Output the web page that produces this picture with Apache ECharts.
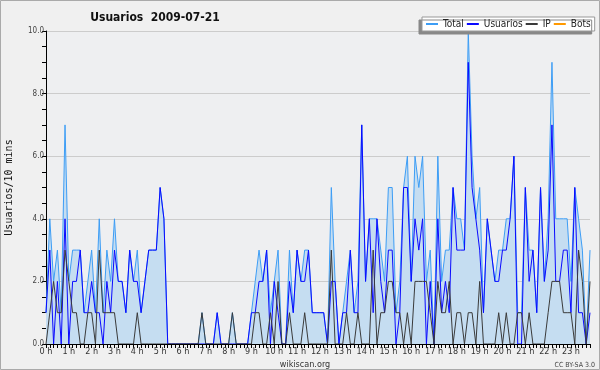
<!DOCTYPE html>
<html><head><meta charset="utf-8">
<script src="https://cdn.jsdelivr.net/npm/echarts@6/dist/echarts.min.js"></script>
<style>html,body{margin:0;padding:0;background:#f0f0f0}#c{width:600px;height:370px}</style>
</head><body><div id="c"></div>
<script>
var hourLabels = ["0 h","1 h","2 h","3 h","4 h","5 h","6 h","7 h","8 h","9 h","10 h","11 h","12 h","13 h","14 h","15 h","16 h","17 h","18 h","19 h","20 h","21 h","22 h","23 h"];
var yTickLabels = ["0.0","2.0","4.0","6.0","8.0","10.0"];
var total = [1,4,2,3,1,7, 2,3,3,3,1,2, 3,1,4,1,3,2, 4,2,2,1,3,2, 3,1,2,3,3,3, 5,4,0,0,0,0,
  0,0,0,0,0,1, 0,0,0,1,0,0, 0,1,0,0,0,0, 1,2,3,2,3,1, 2,3,0,0,3,1, 3,2,3,3,1,1,
  1,1,0,5,2,0, 1,2,3,1,2,7, 2,4,4,4,3,2, 5,5,1,2,5,6, 2,6,5,6,2,3, 0,6,2,3,3,5,
  4,4,3,10,6,4, 5,1,4,3,2,3, 3,4,4,6,1,1, 5,3,3,1,5,2, 4,9,4,4,4,4, 2,5,4,3,0,3];
var usuarios = [1,3,0,2,0,4, 0,2,2,3,1,1, 2,1,1,0,2,1, 3,2,2,1,3,2, 2,1,2,3,3,3, 5,4,0,0,0,0,
  0,0,0,0,0,0, 0,0,0,1,0,0, 0,0,0,0,0,0, 1,1,2,2,3,0, 2,1,0,0,2,1, 3,2,2,3,1,1,
  1,1,0,2,2,0, 1,1,3,1,1,7, 2,4,1,4,2,1, 3,3,0,1,5,5, 2,4,3,4,0,2, 0,4,1,2,1,5,
  3,3,3,9,5,4, 3,1,4,3,2,2, 3,3,4,6,0,0, 5,2,3,1,5,2, 3,7,2,2,3,3, 1,5,1,1,0,1];
var ip = [0,1,2,1,1,3, 2,1,1,0,0,1, 1,0,3,1,1,1, 1,0,0,0,0,0, 1,0,0,0,0,0, 0,0,0,0,0,0,
  0,0,0,0,0,1, 0,0,0,0,0,0, 0,1,0,0,0,0, 0,1,1,0,0,1, 0,2,0,0,1,0, 0,0,1,0,0,0,
  0,0,0,3,0,0, 0,1,0,0,1,0, 0,0,3,0,1,1, 2,2,1,1,0,1, 0,2,2,2,2,1, 0,2,1,1,2,0,
  1,1,0,1,1,0, 2,0,0,0,0,1, 0,1,0,0,1,1, 0,1,0,0,0,0, 1,2,2,2,1,1, 1,0,3,2,0,2];
var bots = [0,0,0,0,0,0, 0,0,0,0,0,0, 0,0,0,0,0,0, 0,0,0,0,0,0, 0,0,0,0,0,0, 0,0,0,0,0,0,
  0,0,0,0,0,0, 0,0,0,0,0,0, 0,0,0,0,0,0, 0,0,0,0,0,0, 0,0,0,0,0,0, 0,0,0,0,0,0,
  0,0,0,0,0,0, 0,0,0,0,0,0, 0,0,0,0,0,0, 0,0,0,0,0,0, 0,0,0,0,0,0, 0,0,0,0,0,0,
  0,0,0,0,0,0, 0,0,0,0,0,0, 0,0,0,0,0,0, 0,0,0,0,0,0, 0,0,0,0,0,0, 0,0,0,0,0,0];

var categories = [];
hourLabels.forEach(function(h){ for (var k=0;k<6;k++) categories.push(k===0 ? h : ""); });

var FONT = "'DejaVu Sans Condensed', 'DejaVu Sans', sans-serif";
var MONO = "'DejaVu Sans Mono', monospace";
var chart = echarts.init(document.getElementById('c'), null, {renderer:'canvas'});
chart.setOption({
  backgroundColor: '#f0f0f0',
  animation: false,
  textStyle: {fontFamily: FONT},
  title: [
    {text: 'Usuarios  2009-07-21', left: 150, top: 7, textAlign: 'center',
     textStyle: {fontFamily: FONT, fontSize: 12, fontWeight: 'bold', color: '#111'}},
    {text: 'wikiscan.org', left: 300, top: 355, textAlign: 'center',
     textStyle: {fontFamily: FONT, fontSize: 9, fontWeight: 'normal', color: '#333'}},
    {text: 'CC BY-SA 3.0', left: 590, top: 357, textAlign: 'right',
     textStyle: {fontFamily: FONT, fontSize: 7, fontWeight: 'normal', color: '#444'}}
  ],
  legend: {
    left: 422, top: 17, itemWidth: 12, itemHeight: 2, itemGap: 3,
    icon: 'rect', padding: [2, 4, 2, 4],
    backgroundColor: '#ffffff', borderColor: '#999', borderWidth: 1,
    shadowColor: '#888', shadowOffsetX: -3, shadowOffsetY: 3, shadowBlur: 0,
    textStyle: {fontFamily: FONT, fontSize: 10, color: '#222', padding: [0,0,0,0]},
    data: ['Total','Usuarios','IP','Bots']
  },
  grid: {left: 46, right: 10, top: 31, bottom: 26, show: true, outerBoundsMode: 'none',
         backgroundColor: '#eeeff1', borderWidth: 0},
  xAxis: {
    type: 'category', data: categories, boundaryGap: false, z: 10,
    axisLine: {lineStyle: {color: '#000', width: 1}},
    axisTick: {show: true, interval: 0, length: 4, lineStyle: {color: '#000'}},
    axisLabel: {interval: 0, fontSize: 9, color: '#333', margin: 3, fontFamily: FONT},
    splitLine: {show: false}
  },
  yAxis: {
    type: 'value', min: 0, max: 10, interval: 2,
    name: 'Usuarios/10 mins', nameLocation: 'middle', nameGap: 32, nameRotate: 90,
    nameTextStyle: {fontFamily: MONO, fontSize: 10, color: '#111'},
    axisLine: {show: true, lineStyle: {color: '#000', width: 1}},
    axisTick: {show: true, length: 4, lineStyle: {color: '#000'}},
    minorTick: {show: true, splitNumber: 4, length: 4, lineStyle: {color: '#000'}},
    axisLabel: {fontSize: 8, color: '#444', margin: 2, fontFamily: FONT,
      formatter: function(v){ return yTickLabels[Math.round(v/2)]; }},
    splitLine: {show: true, lineStyle: {color: '#cccccc', width: 1}}
  },
  series: [
    {name: 'Bots', type: 'line', data: bots, symbol: 'none', z: 1,
     lineStyle: {color: '#ff9900', width: 1}, itemStyle: {color: '#ff9900'}},
    {name: 'Total', type: 'line', data: total, symbol: 'none', z: 2,
     lineStyle: {color: '#3d9df5', width: 1}, itemStyle: {color: '#3d9df5'},
     areaStyle: {color: '#c5ddf1', opacity: 1}},
    {name: 'Usuarios', type: 'line', data: usuarios, symbol: 'none', z: 3,
     lineStyle: {color: '#0a0aff', width: 1}, itemStyle: {color: '#0a0aff'}},
    {name: 'IP', type: 'line', data: ip, symbol: 'none', z: 4,
     lineStyle: {color: '#3a3a3a', width: 1}, itemStyle: {color: '#3a3a3a'}}
  ],
  graphic: [{type: 'rect', shape: {x: 0.5, y: 0.5, width: 599, height: 369},
    style: {fill: 'none', stroke: '#aaaaaa', lineWidth: 1}, z: 100}]
});
</script></body></html>
